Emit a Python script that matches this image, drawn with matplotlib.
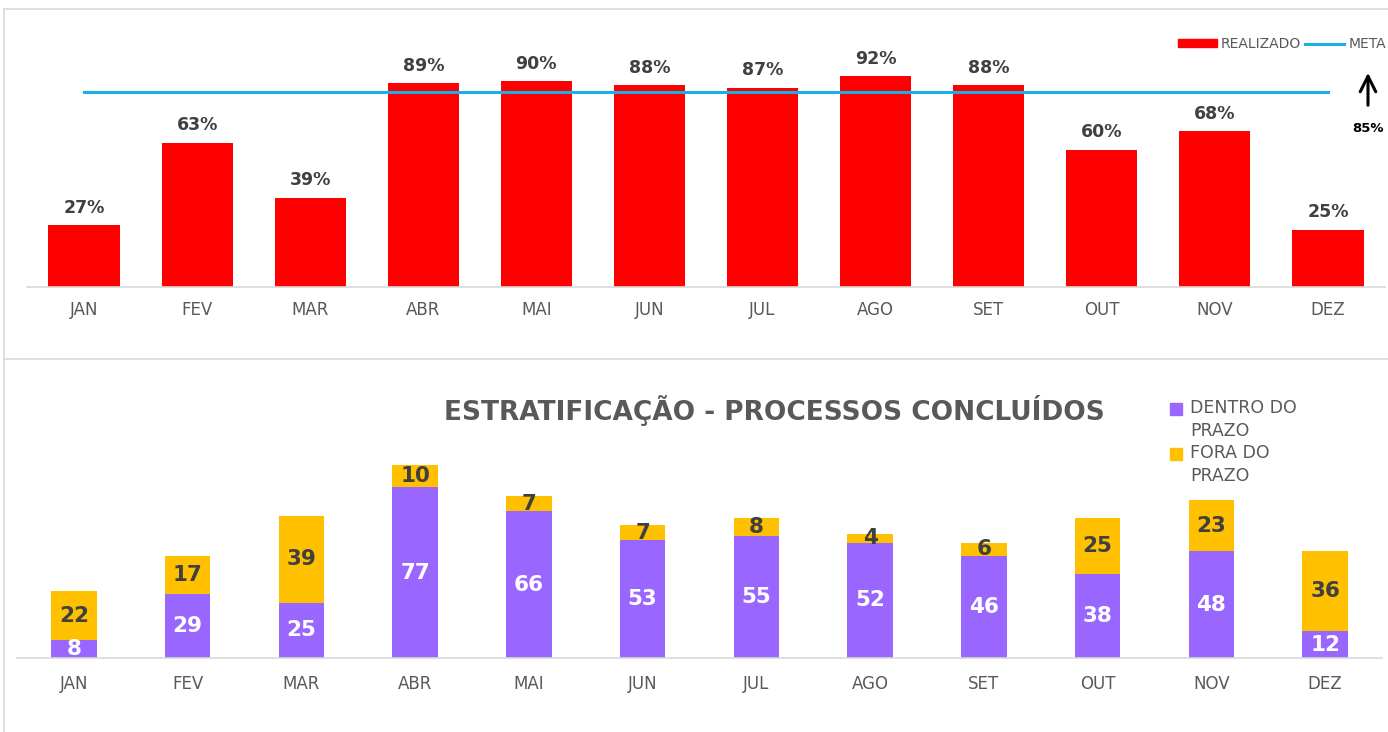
import matplotlib.pyplot as plt
import numpy as np
from matplotlib.lines import Line2D
from matplotlib.patches import Patch, Rectangle

plt.rcParams['font.family'] = ['DejaVu Sans']

meses = ['JAN', 'FEV', 'MAR', 'ABR', 'MAI', 'JUN', 'JUL', 'AGO', 'SET', 'OUT', 'NOV', 'DEZ']
realizado = [0.27, 0.63, 0.39, 0.89, 0.90, 0.88, 0.87, 0.92, 0.88, 0.60, 0.68, 0.25]
meta = 0.85
dentro_prazo = [8, 29, 25, 77, 66, 53, 55, 52, 46, 38, 48, 12]
fora_prazo = [22, 17, 39, 10, 7, 7, 8, 4, 6, 25, 23, 36]
legenda_baixo = ['DENTRO DO\nPRAZO', 'FORA DO\nPRAZO']

vermelho = '#FF0000'
azul = '#1AAFE6'
roxo = '#9966FF'
amarelo = '#FFC000'
cinza_txt = '#595959'
cinza_lbl = '#404040'
cinza_linha = '#D9D9D9'

W, H = 1388, 732
fig = plt.figure(figsize=(13.88, 7.32), dpi=100)

def fx(px):
    return px / W

def fy(py):
    return 1 - py / H

x = np.arange(len(meses))

# ---- grafico de cima: realizado x meta
ax1 = fig.add_axes([fx(27.5), fy(287), fx(1384.5 - 27.5), fy(58) - fy(287)])
ax1.bar(x, realizado, width=0.63, color=vermelho, zorder=2)
ax1.plot([x[0], x[-1]], [meta, meta], color=azul, lw=2.2, zorder=3)
for i, v in enumerate(realizado):
    ax1.annotate('{:.0f}%'.format(v * 100), (x[i], v), xytext=(0, 6), textcoords='offset points',
                 ha='center', va='bottom', fontsize=12.5, fontweight='bold', color=cinza_lbl)
ax1.set_xlim(-0.5, len(meses) - 0.5)
ax1.set_ylim(0, 1.0)
ax1.set_xticks(x)
ax1.set_xticklabels(meses, fontsize=12, color=cinza_txt)
ax1.tick_params(axis='x', length=0, pad=10)
ax1.set_yticks([])
for s in ['top', 'right', 'left']:
    ax1.spines[s].set_visible(False)
ax1.spines['bottom'].set_color(cinza_linha)
ax1.spines['bottom'].set_linewidth(1.2)

leg1 = fig.legend(handles=[Patch(color=vermelho, label='REALIZADO'),
                           Line2D([0], [0], color=azul, lw=2.2, label='META')],
                  loc='center right', bbox_to_anchor=(fx(1386), fy(44)), ncol=2, frameon=False,
                  fontsize=10, handlelength=2.8, handleheight=0.5, handletextpad=0.3,
                  columnspacing=0.3, borderaxespad=0, borderpad=0)
for t in leg1.get_texts():
    t.set_color(cinza_txt)

fig.add_artist(plt.Annotation('', xy=(fx(1368), fy(70)), xytext=(fx(1368), fy(108)),
                              xycoords='figure fraction', textcoords='figure fraction',
                              arrowprops=dict(arrowstyle='->', lw=2.2, color='black', mutation_scale=28)))
fig.text(fx(1368), fy(128), '{:.0f}%'.format(meta * 100), ha='center', va='center',
         fontsize=9.5, fontweight='bold', color='black')

# ---- grafico de baixo: estratificacao
ax2 = fig.add_axes([fx(17), fy(658), fx(1382 - 17), fy(436) - fy(658)])
ax2.bar(x, dentro_prazo, width=0.40, color=roxo, zorder=2)
ax2.bar(x, fora_prazo, width=0.40, bottom=dentro_prazo, color=amarelo, zorder=2)
for i in range(len(meses)):
    ax2.text(x[i], dentro_prazo[i] / 2, str(dentro_prazo[i]), ha='center', va='center',
             fontsize=15.5, fontweight='bold', color='white', zorder=4)
    ax2.text(x[i], dentro_prazo[i] + fora_prazo[i] / 2, str(fora_prazo[i]), ha='center', va='center',
             fontsize=15.5, fontweight='bold', color=cinza_lbl, zorder=4)
ax2.set_xlim(-0.5, len(meses) - 0.5)
ax2.set_ylim(0, 100)
ax2.set_xticks(x)
ax2.set_xticklabels(meses, fontsize=12, color=cinza_txt)
ax2.tick_params(axis='x', length=0, pad=12)
ax2.set_yticks([])
for s in ['top', 'right', 'left']:
    ax2.spines[s].set_visible(False)
ax2.spines['bottom'].set_color(cinza_linha)
ax2.spines['bottom'].set_linewidth(1.2)

fig.text(fx(774), fy(411), 'ESTRATIFICAÇÃO - PROCESSOS CONCLUÍDOS', ha='center', va='center',
         fontsize=19, fontweight='bold', color=cinza_txt)

# legenda de baixo (quadrado alinhado com a primeira linha)
for k, (lab, cor) in enumerate(zip(legenda_baixo, [roxo, amarelo])):
    y0 = 409 + k * 45
    fig.patches.append(Rectangle((fx(1170), fy(y0 + 6)), fx(12), fy(y0 - 6) - fy(y0 + 6),
                                 transform=fig.transFigure, color=cor))
    fig.text(fx(1190), fy(y0 - 10), lab, ha='left', va='top', fontsize=12.5,
             color=cinza_txt, linespacing=1.35)

# molduras
fig.add_artist(Line2D([fx(4), 1], [fy(9), fy(9)], color=cinza_linha, lw=1.2))
fig.add_artist(Line2D([fx(4), fx(4)], [fy(9), 0], color=cinza_linha, lw=1.2))
fig.add_artist(Line2D([fx(4), 1], [fy(359), fy(359)], color=cinza_linha, lw=1.2))

plt.savefig('out.png', dpi=100)
